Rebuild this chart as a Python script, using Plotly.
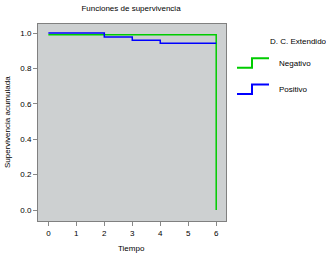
import plotly.graph_objects as go

# Data
neg_time = [0, 6, 6]
neg_surv = [0.99, 0.99, 0.0]
pos_time = [0, 2, 3, 4, 6]
pos_surv = [1.0, 0.977, 0.959, 0.942, 0.942]
series_names = ["Negativo", "Positivo"]
series_colors = ["#00CC00", "#0000FF"]
x_ticks = [0, 1, 2, 3, 4, 5, 6]
y_ticks = [0.0, 0.2, 0.4, 0.6, 0.8, 1.0]

W, H = 326, 255
L, R, T, B = 38, 226, 24, 221

def px(x):
    return (x - L) / (R - L)

def py(y):
    return (B - y) / (B - T)

fig = go.Figure()
fig.add_trace(go.Scatter(x=neg_time, y=neg_surv, mode="lines", line_shape="hv",
                         line=dict(color=series_colors[0], width=1.5), name=series_names[0], showlegend=False))
fig.add_trace(go.Scatter(x=pos_time, y=pos_surv, mode="lines", line_shape="hv",
                         line=dict(color=series_colors[1], width=1.5), name=series_names[1], showlegend=False))

font = dict(family="Liberation Sans, Arial, sans-serif", size=8, color="#000000")

shapes = []
annotations = []
# legend step symbols
for i, (nm, col) in enumerate(zip(series_names, series_colors)):
    low = 67.7 + i * 26.3
    high = low - 9.5
    path = f"M {px(237)},{py(low)} L {px(252)},{py(low)} L {px(252)},{py(high)} L {px(269)},{py(high)}"
    shapes.append(dict(type="path", xref="paper", yref="paper", path=path,
                       line=dict(color=col, width=2)))
    annotations.append(dict(xref="paper", yref="paper", x=px(277), y=py(low - 4.5), text=nm,
                            showarrow=False, xanchor="left", yanchor="middle", font=font))
annotations.append(dict(xref="paper", yref="paper", x=px(268), y=py(41), text="D. C. Extendido",
                        showarrow=False, xanchor="left", yanchor="middle", font=font))
annotations.append(dict(xref="paper", yref="paper", x=px(7), y=py(122), text="Supervivencia acumulada",
                        showarrow=False, xanchor="center", yanchor="middle", textangle=-90, font=font))
annotations.append(dict(xref="paper", yref="paper", x=px(131), y=py(248), text="Tiempo",
                        showarrow=False, xanchor="center", yanchor="middle", font=font))

fig.update_layout(
    width=W, height=H,
    margin=dict(l=L, r=W - R, t=T, b=H - B, pad=0),
    paper_bgcolor="white", plot_bgcolor="#CDD0D1",
    font=font,
    title=dict(text="Funciones de supervivencia", x=131 / W, xanchor="center",
               y=1 - 8 / H, yanchor="middle", font=font, automargin=False),
    shapes=shapes, annotations=annotations,
    xaxis=dict(range=[-0.37, 6.35], tickvals=x_ticks, ticks="outside", ticklen=4, tickcolor="#888888",
               showgrid=False, zeroline=False, showline=True, linecolor="#808080", linewidth=1, mirror=True,
               automargin=False),
    yaxis=dict(range=[-0.062, 1.051], tickvals=y_ticks, tickformat=".1f", ticks="outside", ticklen=4,
               tickcolor="#888888", showgrid=False, zeroline=False, showline=True, linecolor="#808080",
               linewidth=1, mirror=True, automargin=False),
)

fig.write_html("out.html", config={"displayModeBar": False},
               post_script="document.body.style.margin='0';document.body.style.overflow='hidden';")
